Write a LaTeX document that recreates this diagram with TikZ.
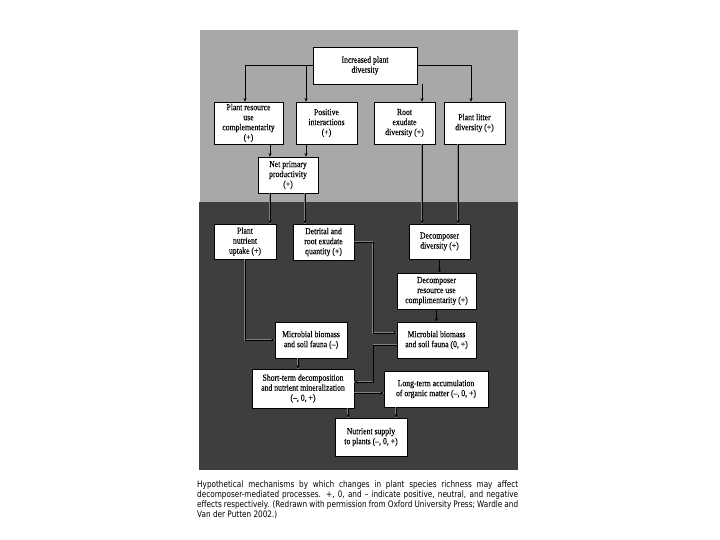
\documentclass[tikz,border=0pt]{standalone}
\usepackage{fontspec}
\setmainfont{Liberation Serif}
\newfontfamily\boxfont[FakeStretch=0.84,FakeBold=0.15]{Liberation Serif}
\newfontfamily\capfont[FakeStretch=0.82]{DejaVu Sans}
\usetikzlibrary{arrows.meta}
\definecolor{lightbg}{HTML}{A8A8A8}
\definecolor{darkbg}{HTML}{3E3E3E}
\begin{document}
\begin{tikzpicture}[x=1pt,y=-1pt,
  box/.style={draw=black, line width=0.5pt, fill=white, align=center, inner sep=1pt,
    font=\boxfont\fontsize{9.2}{10}\selectfont},
  arr/.style={-{Stealth[length=3.5pt,width=3pt]}, line width=0.5pt, draw=black},
  darr/.style={arr, preaction={draw=black!50, line width=1.4pt, -}}]
\useasboundingbox (0,0) rectangle (720,540);
\fill[lightbg] (200,30) rectangle (518,202);
\fill[darkbg] (199,202) rectangle (518,470);

% top boxes
\node[box, minimum width=104pt, minimum height=37pt] (ipd) at (365,65.5) {Increased plant\\diversity};
\node[box, minimum width=69pt, minimum height=42pt] (prc) at (248.5,123) {Plant resource\\use\\complementarity\\(+)};
\node[box, minimum width=61pt, minimum height=42pt] (pi) at (326.5,123) {Positive\\interactions\\(+)};
\node[box, minimum width=61pt, minimum height=42pt] (red) at (404.5,123) {Root\\exudate\\diversity (+)};
\node[box, minimum width=61pt, minimum height=42pt] (pld) at (474.5,123) {Plant litter\\diversity (+)};
\node[box, minimum width=60pt, minimum height=36pt] (npp) at (288,175) {Net primary\\productivity\\(+)};

% bottom boxes
\node[box, minimum width=62pt, minimum height=35pt] (pnu) at (245,241.5) {Plant\\nutrient\\uptake (+)};
\node[box, minimum width=61pt, minimum height=36pt] (drq) at (323.5,242) {Detrital and\\root exudate\\quantity (+)};
\node[box, minimum width=61pt, minimum height=35pt] (dd) at (439.5,241.5) {Decomposer\\diversity (+)};
\node[box, minimum width=79pt, minimum height=36pt] (dru) at (436.5,291) {Decomposer\\resource use\\complimentarity (+)};
\node[box, minimum width=72pt, minimum height=36pt] (mbm) at (311,340) {Microbial biomass\\and soil fauna (–)};
\node[box, minimum width=79pt, minimum height=36pt] (mbp) at (436.5,340) {Microbial biomass\\and soil fauna (0, +)};
\node[box, minimum width=102pt, minimum height=39pt] (st) at (303,388.5) {Short-term decomposition\\and nutrient mineralization\\(–, 0, +)};
\node[box, minimum width=104pt, minimum height=36pt] (lt) at (436,389) {Long-term accumulation\\of organic matter (–, 0, +)};
\node[box, minimum width=72pt, minimum height=38pt] (ns) at (371,437) {Nutrient supply\\to plants (–, 0, +)};

% top connectors
\coordinate (a0) at ([xshift=-3.5pt]prc.north);
\coordinate (a1) at ([xshift=-20.5pt]pi.north);
\draw[arr] (ipd.west) -| (a0);
\draw[arr] (ipd.west -| a1) -- (a1);
\coordinate (a6) at ([xshift=-3.5pt]pld.north);
\draw[arr] (ipd.east) -| (a6);
\coordinate (a2) at ([xshift=17.5pt]red.north);
\draw[arr] (ipd.south -| a2) -- (a2);
\coordinate (a3) at ([xshift=-18pt]npp.north);
\draw[arr] (prc.south -| a3) -- (a3);
\coordinate (a4) at ([xshift=18pt]npp.north);
\draw[arr] (pi.south -| a4) -- (a4);

% crossing connectors
\coordinate (a5) at ([xshift=25pt]pnu.north);
\draw[darr] (npp.south -| a5) -- (a5);
\coordinate (a7) at ([xshift=-18.5pt]drq.north);
\draw[darr] (npp.south -| a7) -- (a7);
\coordinate (a8) at ([xshift=-17.5pt]dd.north);
\draw[darr] (red.south -| a8) -- (a8);
\coordinate (a9) at ([xshift=18.5pt]dd.north);
\draw[darr] (pld.south -| a9) -- (a9);

% bottom connectors
\draw[darr] (dd.south) -- (dru.north -| dd.south);
\draw[darr] (dru.south) -- (mbp.north);
\draw[darr] (pnu.south) |- (mbm.west);
\coordinate (b1) at ([yshift=7pt]mbp.west);
\draw[darr] (drq.east) -| ([xshift=-24pt]b1) -- (b1);
\coordinate (c1) at ([yshift=6.5pt]st.east);
\draw[darr] ([yshift=-5pt]mbp.west) -| ([xshift=19pt]c1) -- (c1);
\coordinate (c2) at ([yshift=-4.5pt]st.east);
\draw[darr] (c2) -- (c2 -| lt.west);
\coordinate (c3) at ([xshift=-13pt]mbm.south);
\draw[darr] (c3) -- (c3 |- st.north);
\coordinate (c4) at ([xshift=45pt]st.south);
\draw[darr] (c4) -- (c4 |- ns.north);
\coordinate (c5) at ([xshift=-40pt]lt.south);
\draw[darr] (c5) -- (c5 |- ns.north);

% caption
\node[anchor=north west, inner sep=0pt, align=left,
  font=\capfont\fontsize{8.9}{10}\selectfont] (cap) at (197,481)
 {\makebox[321pt][s]{Hypothetical mechanisms by which changes in plant species richness may affect}\\
  \makebox[321pt][s]{decomposer-mediated processes. +, 0, and – indicate positive, neutral, and negative}\\
  \makebox[321pt][s]{effects respectively. (Redrawn with permission from Oxford University Press; Wardle and}\\
  Van der Putten 2002.)};
\end{tikzpicture}
\end{document}
